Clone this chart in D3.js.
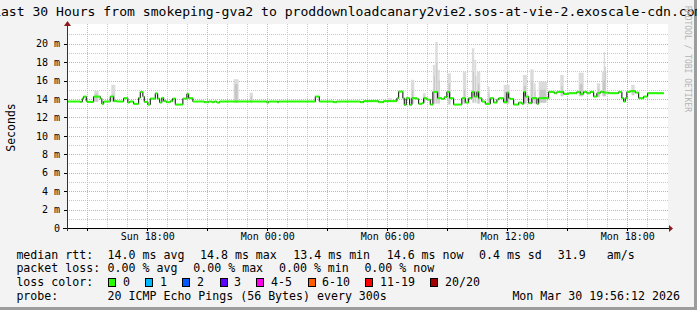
<!DOCTYPE html>
<html>
<head>
<meta charset="utf-8">
<script src="https://cdn.jsdelivr.net/npm/d3@7"></script>
<style>
body { margin: 0; background: #f3f3f3; }
text { font-family: "DejaVu Sans Mono", monospace; }
</style>
</head>
<body>
<svg id="chart" width="697" height="310"></svg>
<script>
var width = 697, height = 310;

// median rtt, step changes: hours after Sun 14:00 -> ms
var stepHours = [0, 0.65, 0.75, 0.82, 0.95, 1.0, 1.32, 1.65, 1.73, 1.82, 2.15, 2.32, 2.48, 2.82, 3.03, 3.12, 3.32, 3.57, 3.65, 3.78,
    3.85, 4.03, 4.15, 4.4, 4.52, 4.62, 4.73, 4.82, 4.95, 5.15, 5.27, 5.4, 5.78, 5.98, 6.07, 6.28, 6.85, 7.07, 7.23, 7.35,
    7.48, 7.62, 9.98, 10.07, 10.52, 10.57, 12.4, 12.6, 13.32, 13.48, 14.65, 14.82, 15.57, 15.82, 16.48, 16.57, 16.78, 16.85, 16.95, 17.12,
    17.23, 17.48, 17.57, 17.73, 17.82, 17.98, 18.15, 18.28, 18.52, 18.73, 18.85, 18.98, 19.12, 19.32, 19.73, 19.9, 20.07, 20.23, 20.35, 20.48,
    20.57, 20.73, 20.9, 21.15, 21.32, 21.48, 21.57, 21.82, 21.98, 22.07, 22.15, 22.32, 22.57, 22.73, 22.82, 22.9, 23.07, 23.23, 23.48, 23.57,
    24.07, 24.35, 24.48, 24.82, 25.07, 25.48, 25.65, 25.82, 25.98, 26.15, 26.32, 26.48, 26.65, 26.82, 27.07, 27.57, 27.73, 27.82, 27.9, 27.98,
    28.15, 28.4, 28.57, 28.82, 29.02, 29.82];
var medianMs = [13.72, 13.68, 14.04, 14.26, 13.76, 13.68, 14.26, 14.04, 13.47, 13.72, 14.26, 13.76, 13.72, 14.08, 13.61, 13.72, 13.47, 14.12, 14.75, 14.26,
    13.68, 13.39, 14.04, 14.6, 14.04, 13.61, 14.12, 13.76, 13.65, 13.76, 14.04, 13.39, 14.04, 14.55, 14.08, 13.72, 13.65, 13.72, 13.65, 13.72,
    13.61, 13.72, 13.61, 13.72, 13.65, 13.72, 14.26, 13.72, 13.65, 13.72, 13.65, 13.76, 13.65, 13.76, 14.08, 14.8, 14.08, 13.36, 14.08, 13.36,
    14.08, 14.0, 13.47, 13.54, 14.08, 13.93, 13.39, 14.77, 14.08, 14.0, 14.19, 14.77, 14.08, 13.39, 14.08, 13.61, 14.08, 14.77, 14.26, 14.77,
    14.08, 13.72, 13.47, 14.08, 13.61, 13.93, 14.08, 13.65, 14.69, 14.08, 14.0, 13.39, 13.61, 13.47, 14.77, 14.26, 13.54, 14.08, 13.47, 14.08,
    14.77, 14.62, 14.77, 14.55, 14.62, 14.77, 14.55, 14.77, 14.62, 14.77, 14.26, 14.62, 14.77, 14.69, 14.62, 14.77, 14.08, 13.72, 14.08, 14.77,
    14.84, 14.69, 14.08, 14.26, 14.62, 14.62];

// smoke (ping spread) spikes
var smokeFrom = [1.35, 2.2, 8.32, 9.12, 15.98, 17.18, 17.78, 18.28, 18.4, 18.52, 19.02, 19.78, 20.23, 20.35, 20.48, 21.02, 21.82, 22.78, 23.15, 23.32, 23.57, 24.65, 25.57, 26.48, 26.73, 26.82, 28.2];
var smokeTo   = [1.57, 2.4, 8.57, 9.28, 16.23, 17.35, 17.92, 18.4, 18.52, 18.62, 19.18, 19.95, 20.35, 20.45, 20.65, 21.12, 22.12, 22.98, 23.32, 23.42, 23.98, 24.82, 25.82, 26.65, 26.95, 26.88, 28.37];
var smokeLow  = [13.7, 13.7, 13.6, 13.6, 13.7, 13.5, 13.6, 13.5, 13.5, 13.5, 13.4, 13.5, 13.6, 13.6, 13.5, 13.5, 13.5, 13.5, 13.5, 13.5, 13.6, 14.3, 14.3, 14.2, 14.3, 14.3, 14.4];
var smokeMid  = [14.6, 14.5, 15.6, 14.3, 13.9, 15.0, 14.3, 16.5, 17.9, 16.0, 15.7, 15.0, 17.0, 16.5, 15.6, 14.6, 14.8, 15.4, 16.0, 14.8, 15.0, 15.4, 15.6, 15.1, 16.0, 17.5, 15.0];
var smokeHigh = [14.87, 15.53, 16.14, 14.69, 14.1, 16.07, 14.62, 17.7, 20.2, 17.15, 16.78, 16.96, 19.5, 18.24, 16.96, 15.35, 15.53, 16.6, 17.2, 15.7, 15.9, 16.6, 16.85, 15.7, 16.96, 19.1, 15.53];

var yTicks = [0, 2, 4, 6, 8, 10, 12, 14, 16, 18, 20];

var lossLabels = ["0", "1", "2", "3", "4-5", "6-10", "11-19", "20/20"];
var lossColors = ["#26ff00", "#00b8ff", "#0059ff", "#5e00ff", "#ff00ea", "#ff5e00", "#ff0000", "#a10000"];
var lossBoxX = [108, 145, 182, 220, 256, 308, 365, 430];
var lossTextX = [123, 160, 197, 234, 271, 322, 380, 445];

var t0 = new Date(2026, 2, 29, 14, 0, 0);
function toDate(h) { return new Date(t0.getTime() + h * 3600000); }

var svg = d3.select("#chart");

svg.append("rect").attr("width", width).attr("height", height).attr("fill", "#f3f3f3");
svg.append("rect").attr("x", width - 3).attr("y", 0).attr("width", 3).attr("height", height).attr("fill", "#9c9c9c");
svg.append("rect").attr("x", 0).attr("y", height - 3).attr("width", width).attr("height", 3).attr("fill", "#9c9c9c");

var x = d3.scaleTime()
    .domain([new Date(2026, 2, 29, 13, 56, 12), new Date(2026, 2, 30, 19, 56, 12)])
    .range([66, 666]);
var y = d3.scaleLinear().domain([0, 22]).range([228, 25.2]);

// canvas
svg.append("rect").attr("x", 67).attr("y", 24).attr("width", 601).attr("height", 204).attr("fill", "#ffffff");

var grid = svg.append("g");
// minor grid
d3.range(1, 22, 2).forEach(function(v) {
    grid.append("line").attr("x1", 67).attr("x2", 668).attr("y1", Math.round(y(v)) + 0.5).attr("y2", Math.round(y(v)) + 0.5)
        .attr("stroke", "#c8c8c8").attr("stroke-dasharray", "1,1");
});
x.ticks(d3.timeHour.every(1)).forEach(function(d) {
    if (d.getHours() % 3 == 0) return;
    var xx = Math.round(x(d)) + 0.5;
    grid.append("line").attr("x1", xx).attr("x2", xx).attr("y1", 24).attr("y2", 228)
        .attr("stroke", "#c8c8c8").attr("stroke-dasharray", "1,1");
});
// major grid
yTicks.slice(1).forEach(function(v) {
    grid.append("line").attr("x1", 67).attr("x2", 668).attr("y1", Math.round(y(v)) + 0.5).attr("y2", Math.round(y(v)) + 0.5)
        .attr("stroke", "#f0a0a0").attr("stroke-dasharray", "1,1");
});
x.ticks(d3.timeHour.every(3)).forEach(function(d) {
    var xx = Math.round(x(d)) + 0.5;
    grid.append("line").attr("x1", xx).attr("x2", xx).attr("y1", 24).attr("y2", 228)
        .attr("stroke", "#f0a0a0").attr("stroke-dasharray", "1,1");
});

// smoke
var smoke = smokeFrom.map(function(f, i) {
    return { from: f, to: smokeTo[i], low: smokeLow[i], mid: smokeMid[i], high: smokeHigh[i] };
});
svg.append("g").selectAll("rect").data(smoke).join("rect")
    .attr("x", d => x(toDate(d.from)))
    .attr("width", d => Math.max(1.5, x(toDate(d.to)) - x(toDate(d.from))))
    .attr("y", d => y(d.high))
    .attr("height", d => y(d.low) - y(d.high))
    .attr("fill", "#dcdcdc");
svg.append("g").selectAll("rect").data(smoke).join("rect")
    .attr("x", d => x(toDate(d.from)) + 1)
    .attr("width", d => Math.max(1, x(toDate(d.to)) - x(toDate(d.from)) - 2))
    .attr("y", d => y(d.mid))
    .attr("height", d => y(d.low) - y(d.mid))
    .attr("fill", "#c6c6c6");

// median line
var steps = stepHours.map(function(h, i) { return { t: toDate(h), v: medianMs[i] }; });
var line = d3.line().x(d => x(d.t)).y(d => y(d.v)).curve(d3.curveStepAfter);
svg.append("path").datum(steps).attr("d", line).attr("fill", "none").attr("stroke", "#000").attr("stroke-width", 1);
svg.append("g").selectAll("line").data(steps.slice(0, -1)).join("line")
    .attr("x1", d => x(d.t))
    .attr("x2", (d, i) => x(steps[i + 1].t))
    .attr("y1", d => y(d.v))
    .attr("y2", d => y(d.v))
    .attr("stroke", lossColors[0]).attr("stroke-width", 2);

// axes
svg.append("line").attr("x1", 63).attr("x2", 669).attr("y1", 228.5).attr("y2", 228.5).attr("stroke", "#000");
svg.append("line").attr("x1", 67.5).attr("x2", 67.5).attr("y1", 24).attr("y2", 231).attr("stroke", "#333");
svg.append("path").attr("d", "M669,225 L673,228.5 L669,232 Z").attr("fill", "#8b1a1a");
svg.append("path").attr("d", "M64,26 L67.5,21 L71,26 Z").attr("fill", "#8b1a1a");
yTicks.forEach(function(v) {
    svg.append("line").attr("x1", 64).attr("x2", 67).attr("y1", Math.round(y(v)) + 0.5).attr("y2", Math.round(y(v)) + 0.5).attr("stroke", "#000");
});
x.ticks(d3.timeHour.every(3)).forEach(function(d) {
    var xx = Math.round(x(d)) + 0.5;
    svg.append("line").attr("x1", xx).attr("x2", xx).attr("y1", 228).attr("y2", 231).attr("stroke", "#000");
});

var yAxis = d3.axisLeft(y).tickValues(yTicks).tickSize(0).tickPadding(7)
    .tickFormat(d => d == 0 ? "0" : d + " m");
var gy = svg.append("g").attr("transform", "translate(67,0)").call(yAxis);
gy.select(".domain").remove();
gy.selectAll("text").style("font-family", "DejaVu Sans Mono").style("font-size", "10px").attr("fill", "#000");

var xAxis = d3.axisBottom(x).ticks(d3.timeHour.every(6)).tickSize(0).tickPadding(5)
    .tickFormat(d3.timeFormat("%a %H:%M"));
var gx = svg.append("g").attr("transform", "translate(0,228)").call(xAxis);
gx.select(".domain").remove();
gx.selectAll("text").style("font-family", "DejaVu Sans Mono").style("font-size", "10px").attr("fill", "#000");

// title and labels (title is wider than the image, as in the original)
svg.append("text").attr("x", -7).attr("y", 16)
    .style("font-size", "13.1px")
    .text("Last 30 Hours from smokeping-gva2 to proddownloadcanary2vie2.sos-at-vie-2.exoscale-cdn.com");
svg.append("text").attr("transform", "translate(14.5,127.5) rotate(-90)").attr("text-anchor", "middle")
    .style("font-size", "11.5px").text("Seconds");
svg.append("text").attr("transform", "translate(685,6) rotate(90)")
    .style("font-size", "8px").attr("fill", "#b4b4b4").text("RRDTOOL / TOBI OETIKER");

// legend
var legendRows = [
    [[16.4, "median rtt:"], [107.6, "14.0 ms avg"], [200, "14.8 ms max"], [293.3, "13.4 ms min"], [386.7, "14.6 ms now"], [479, "0.4 ms sd"], [557.8, "31.9"], [606.7, "am/s"]],
    [[16.4, "packet loss:"], [107.6, "0.00 % avg"], [193.3, "0.00 % max"], [279, "0.00 % min"], [364.4, "0.00 % now"]],
    [[16.4, "loss color:"]],
    [[16.4, "probe:"], [107.6, "20 ICMP Echo Pings (56 Bytes) every 300s"], [512.4, "Mon Mar 30 19:56:12 2026"]]
];
var rowY = [258.5, 272.3, 286.2, 300];
legendRows.forEach(function(row, r) {
    row.forEach(function(item) {
        svg.append("text").attr("x", item[0]).attr("y", rowY[r]).style("font-size", "11.6px").text(item[1]);
    });
});
lossLabels.forEach(function(l, i) {
    svg.append("rect").attr("x", lossBoxX[i] + 0.5).attr("y", 278.5).attr("width", 7).attr("height", 8)
        .attr("fill", lossColors[i]).attr("stroke", "#000");
    svg.append("text").attr("x", lossTextX[i]).attr("y", rowY[2]).style("font-size", "11.6px").text(l);
});
</script>
</body>
</html>
